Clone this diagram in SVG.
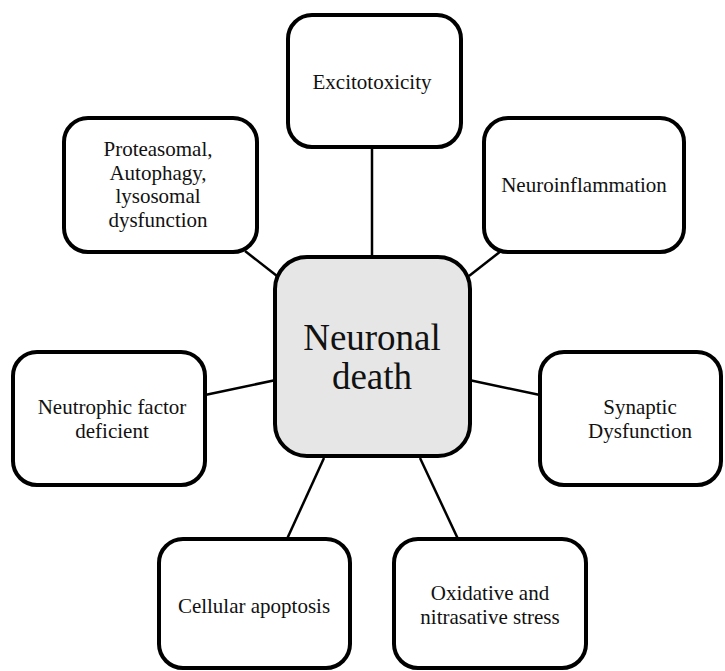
<svg xmlns="http://www.w3.org/2000/svg" width="725" height="671" viewBox="0 0 725 671">
<style>
.box{fill:#fff;stroke:#000;stroke-width:4}
.center{fill:#e6e6e6;stroke:#000;stroke-width:4}
.t{font-family:"Liberation Serif","Times New Roman",serif;font-size:21px;fill:#111;text-anchor:middle}
.big{font-family:"Liberation Serif","Times New Roman",serif;font-size:37px;fill:#111;text-anchor:middle}
.c{stroke:#000;stroke-width:2.5;fill:none}
</style>
<rect width="725" height="671" fill="#fff"/>
<g id="connectors">
<line class="c" x1="372" y1="147" x2="372" y2="257"/>
<line class="c" x1="245" y1="251" x2="277" y2="276"/>
<line class="c" x1="501" y1="251" x2="469" y2="276"/>
<line class="c" x1="205" y1="395" x2="276" y2="380"/>
<line class="c" x1="469" y1="380" x2="540" y2="395"/>
<line class="c" x1="324" y1="458" x2="287" y2="539"/>
<line class="c" x1="420" y1="458" x2="458" y2="539"/>
</g>
<g id="excitotoxicity"><rect class="box" x="288" y="15" width="173" height="132" rx="24"/><text class="t" x="372" y="89">Excitotoxicity</text></g>
<g id="proteasomal"><rect class="box" x="64" y="118" width="193" height="134" rx="24"/><text class="t" x="158" y="156">Proteasomal,</text><text class="t" x="158" y="179.5">Autophagy,</text><text class="t" x="158" y="203">lysosomal</text><text class="t" x="158" y="226.5">dysfunction</text></g>
<g id="neuroinflammation"><rect class="box" x="484" y="118" width="200" height="134" rx="24"/><text class="t" x="584" y="192">Neuroinflammation</text></g>
<g id="neutrophic"><rect class="box" x="13" y="352" width="192" height="133" rx="24"/><text class="t" x="112" y="414">Neutrophic factor</text><text class="t" x="112" y="437.5">deficient</text></g>
<g id="synaptic"><rect class="box" x="540" y="352" width="181" height="133" rx="24"/><text class="t" x="640" y="414">Synaptic</text><text class="t" x="640" y="437.5">Dysfunction</text></g>
<g id="cellular"><rect class="box" x="159" y="539" width="191" height="129" rx="24"/><text class="t" x="254" y="613">Cellular apoptosis</text></g>
<g id="oxidative"><rect class="box" x="394" y="539" width="192" height="129" rx="24"/><text class="t" x="490" y="600">Oxidative and</text><text class="t" x="490" y="623.5">nitrasative stress</text></g>
<g id="neuronal-death"><rect class="center" x="275" y="257" width="195" height="199" rx="32"/><text class="big" x="372" y="350">Neuronal</text><text class="big" x="372" y="389">death</text></g>
</svg>
